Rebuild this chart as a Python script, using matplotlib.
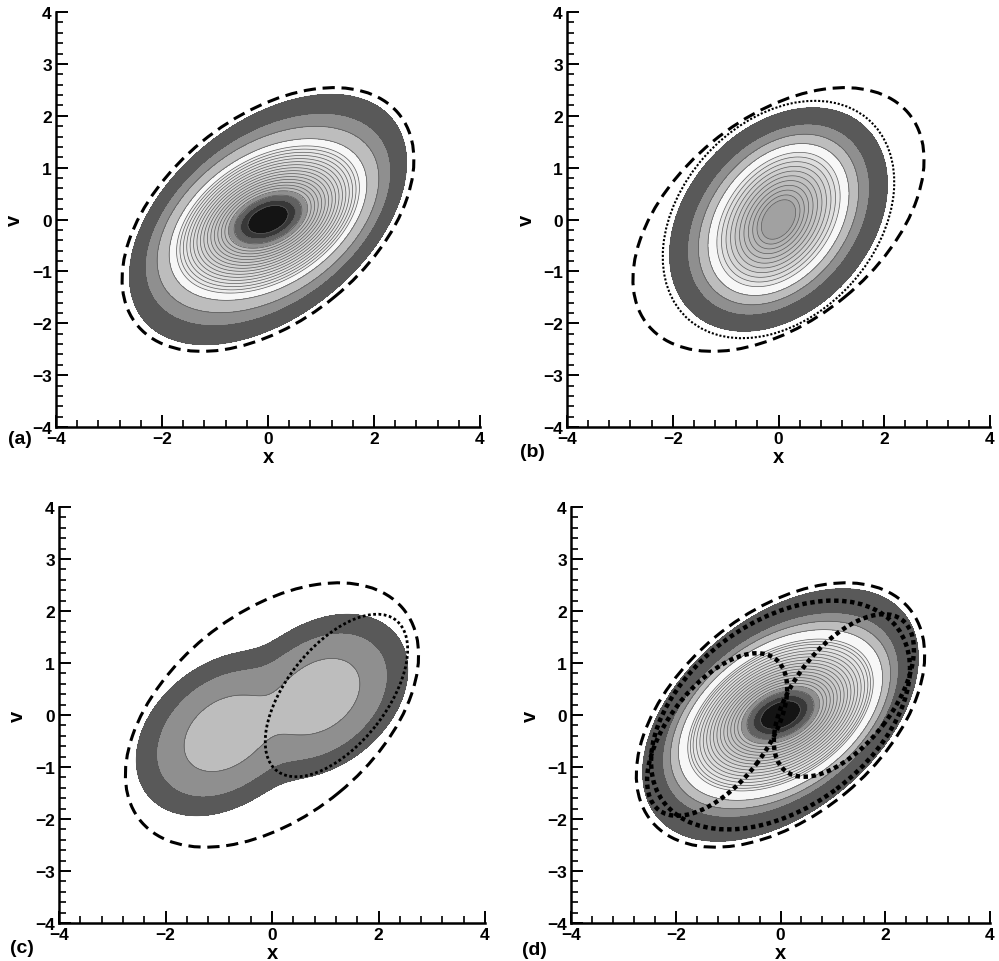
import numpy as np
import matplotlib
matplotlib.use("Agg")
import matplotlib.pyplot as plt
from matplotlib.patches import Ellipse
from matplotlib.ticker import MultipleLocator

plt.rcParams["font.family"] = ["Liberation Sans", "DejaVu Sans"]
plt.rcParams["font.weight"] = "bold"
plt.rcParams["axes.labelweight"] = "bold"

# ellipses as (centre x, centre v, semi-major, semi-minor, tilt in degrees)
dashed_ell = (0.0, 0.0, 3.20, 1.95, 40.0)
dotted_b = (0.0, 0.0, 2.57, 1.85, 49.0)
dotted_e1 = (1.21, 0.375, 1.83, 0.94, 52.7)
dotted_e2 = (-1.21, -0.375, 1.83, 0.94, 52.7)
dotted_d = (0.0, 0.0, 2.79, 1.78, 37.0)

# ring fields: outer boundary and core shape (semi-major, semi-minor, tilt)
outer_a = (3.04, 1.85, 40.0)
core_a = (3.00, 1.75, 22.0)
outer_b = (2.42, 1.74, 49.0)
core_b = (2.47, 1.60, 58.0)
outer_d = (3.06, 1.86, 40.0)
core_d = (3.00, 1.75, 22.0)

levels_a = [0.0, 0.135, 0.185, 0.23, 0.27, 0.295, 0.32, 0.345, 0.37,
            0.395, 0.42, 0.445, 0.47, 0.495, 0.52, 0.545, 0.57, 0.595,
            0.62, 0.645, 0.70, 0.79, 0.88, 1.0]
grays_a = [0.08, 0.22, 0.38, 0.56,
           0.74, 0.75, 0.77, 0.78, 0.79, 0.81, 0.82, 0.83, 0.85, 0.86,
           0.87, 0.89, 0.90, 0.91, 0.93,
           0.97, 0.74, 0.56, 0.35]

levels_b = [0.0, 0.17, 0.212, 0.254, 0.296, 0.338, 0.38, 0.422, 0.464,
            0.506, 0.548, 0.59, 0.67, 0.755, 0.85, 1.0]
grays_b = [0.63,
           0.68, 0.70, 0.72, 0.74, 0.76, 0.78, 0.81, 0.84, 0.87, 0.90,
           0.97, 0.74, 0.56, 0.35]

levels_d = [0.0, 0.135, 0.185, 0.23, 0.27, 0.295, 0.32, 0.345, 0.37, 0.395,
            0.42, 0.445, 0.47, 0.495, 0.52, 0.545, 0.57, 0.595, 0.62,
            0.64, 0.66, 0.73, 0.79, 0.85, 1.0]
grays_d = [0.08, 0.22, 0.38, 0.56,
           0.74, 0.75, 0.76, 0.77, 0.79, 0.80, 0.81, 0.82, 0.84, 0.85,
           0.86, 0.87, 0.89, 0.90, 0.91, 0.93,
           0.97, 0.74, 0.56, 0.35]

# two-lobe field of panel (c): lobe centre, lobe widths and tilt, -ln levels
lobe_centre = (0.88, 0.36)
lobe_sigma = (0.61, 0.435, 40.0)
levels_c = [-1.0, 1.0, 2.8, 4.7]
grays_c = [0.74, 0.56, 0.35]


def ell_q(x, v, a, b, ang):
    t = np.radians(ang)
    u = x * np.cos(t) + v * np.sin(t)
    w = -x * np.sin(t) + v * np.cos(t)
    return (u / a) ** 2 + (w / b) ** 2


def ring_field(x, v, outer, core):
    q_out = ell_q(x, v, *outer)
    q_core = ell_q(x, v, *core)
    w = np.clip(np.sqrt(q_out), 0.0, 1.0)
    return np.sqrt((1 - w) * q_core + w * q_out)


def lobe_field(x, v, centre, sig):
    cx, cv = centre
    total = np.zeros_like(x)
    for sgn in (1, -1):
        q = ell_q(x - sgn * cx, v - sgn * cv, *sig)
        total += np.exp(-q / 2)
    return -np.log(total)


def add_ellipse(ax, ell, **kw):
    cx, cv, a, b, ang = ell
    ax.add_patch(Ellipse((cx, cv), 2 * a, 2 * b, angle=ang, fill=False,
                         color="k", zorder=5, **kw))


def style_axes(ax):
    ax.set_xlim(-4, 4)
    ax.set_ylim(-4, 4)
    for side in ("top", "right"):
        ax.spines[side].set_visible(False)
    for side in ("left", "bottom"):
        ax.spines[side].set_linewidth(1.8)
    ax.xaxis.set_major_locator(MultipleLocator(2))
    ax.xaxis.set_minor_locator(MultipleLocator(0.4))
    ax.yaxis.set_major_locator(MultipleLocator(1))
    ax.yaxis.set_minor_locator(MultipleLocator(0.2))
    ax.tick_params(which="major", direction="in", length=8.5, width=1.4,
                   labelsize=12.5, pad=3, top=False, right=False)
    ax.tick_params(which="minor", direction="in", length=5, width=1.2,
                   top=False, right=False)
    ax.set_xlabel("x", fontsize=14.5)
    ax.set_ylabel("v", fontsize=14.5)
    ax.xaxis.set_label_coords(0.5, -0.072)
    ax.xaxis.label.set_va("center")
    ax.yaxis.set_label_coords(-0.097, 0.5)
    ax.yaxis.label.set_va("center")


def draw_field(ax, f, levels, grays):
    ax.contourf(X, V, f, levels=levels, colors=[str(g) for g in grays])
    ax.contour(X, V, f, levels=levels[1:], colors="0.35", linewidths=0.5)


grid = np.linspace(-4, 4, 700)
X, V = np.meshgrid(grid, grid)

W, H = 999, 962
fig = plt.figure(figsize=(W / 100, H / 100), dpi=100)


def px_axes(left, right, top, bottom):
    return fig.add_axes([left / W, 1 - bottom / H, (right - left) / W,
                         (bottom - top) / H])


ax_a = px_axes(56, 480, 13, 428)
ax_b = px_axes(567, 990, 13, 428)
ax_c = px_axes(59, 485, 508, 924)
ax_d = px_axes(571, 990, 508, 924)

dash_style = dict(lw=2.2, ls=(0, (4, 2.2)))

# (a)
draw_field(ax_a, ring_field(X, V, outer_a, core_a), levels_a, grays_a)
add_ellipse(ax_a, dashed_ell, **dash_style)

# (b)
draw_field(ax_b, ring_field(X, V, outer_b, core_b), levels_b, grays_b)
add_ellipse(ax_b, dotted_b, lw=1.5, ls=(0, (1, 0.9)))
add_ellipse(ax_b, dashed_ell, **dash_style)

# (c)
draw_field(ax_c, lobe_field(X, V, lobe_centre, lobe_sigma), levels_c, grays_c)
add_ellipse(ax_c, dotted_e1, lw=2.0, ls=(0, (1, 0.9)))
add_ellipse(ax_c, dashed_ell, **dash_style)

# (d)
draw_field(ax_d, ring_field(X, V, outer_d, core_d), levels_d, grays_d)
for ell in (dotted_d, dotted_e1, dotted_e2):
    add_ellipse(ax_d, ell, lw=3.2, ls=(0, (1, 0.8)))
add_ellipse(ax_d, dashed_ell, **dash_style)

for ax in (ax_a, ax_b, ax_c, ax_d):
    style_axes(ax)

panel_tags = ["(a)", "(b)", "(c)", "(d)"]
tag_pos = [(8, 439), (520, 453), (10, 949), (522, 951)]
for tag, (px, py) in zip(panel_tags, tag_pos):
    fig.text(px / W, 1 - py / H, tag, fontsize=14, ha="left", va="center")

fig.savefig("out.png", dpi=100)
